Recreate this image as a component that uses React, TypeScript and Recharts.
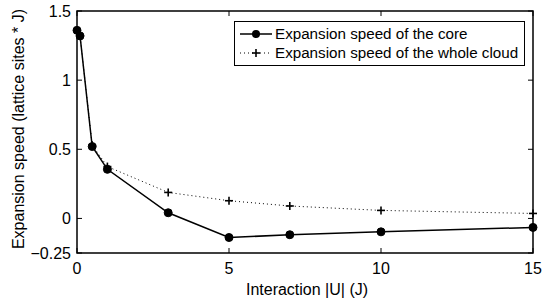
import { LineChart, Line, XAxis, YAxis, ReferenceArea, Legend } from 'recharts';

// interaction strength |U| in units of J
const interaction = [0, 0.1, 0.5, 1, 3, 5, 7, 10, 15];
// expansion speeds (lattice sites * J)
const coreSpeed = [1.36, 1.32, 0.52, 0.355, 0.041, -0.138, -0.118, -0.097, -0.065];
const cloudSpeed = [1.36, 1.32, 0.53, 0.375, 0.188, 0.128, 0.09, 0.058, 0.036];

const xTicks = [0, 5, 10, 15];
const yTicks = [-0.25, 0, 0.5, 1, 1.5];
const yTickLabels = ['\u22120.25', '0', '0.5', '1', '1.5'];

const seriesNames = ['Expansion speed of the core', 'Expansion speed of the whole cloud'];

const data = interaction.map((u, i) => ({
  u,
  core: coreSpeed[i],
  cloud: cloudSpeed[i],
}));

const W = 546;
const H = 302;
const PLOT = { left: 77, top: 11, right: 533, bottom: 253 };
const FONT = 'Liberation Sans, Arial, Helvetica, sans-serif';
const TICK_LEN = 5;

function XTick(props: any) {
  const { x, payload } = props;
  return (
    <g>
      <line x1={x} x2={x} y1={PLOT.bottom} y2={PLOT.bottom - TICK_LEN} stroke="#000" />
      <line x1={x} x2={x} y1={PLOT.top} y2={PLOT.top + TICK_LEN} stroke="#000" />
      <text x={x} y={274} textAnchor="middle" fontSize={16} fontFamily={FONT} fill="#000">
        {payload.value}
      </text>
    </g>
  );
}

function YTick(props: any) {
  const { y, payload } = props;
  const label = yTickLabels[yTicks.indexOf(payload.value)] ?? String(payload.value);
  return (
    <g>
      <line x1={PLOT.left} x2={PLOT.left + TICK_LEN} y1={y} y2={y} stroke="#000" />
      <line x1={PLOT.right} x2={PLOT.right - TICK_LEN} y1={y} y2={y} stroke="#000" />
      <text x={71} y={y} dy={5.5} textAnchor="end" fontSize={16} fontFamily={FONT} fill="#000">
        {label}
      </text>
    </g>
  );
}

function PlusDot(props: any) {
  const { cx, cy } = props;
  if (cx == null || cy == null) return null;
  return (
    <g>
      <line x1={cx - 4} x2={cx + 4} y1={cy} y2={cy} stroke="#000" strokeWidth={1.6} />
      <line x1={cx} x2={cx} y1={cy - 4} y2={cy + 4} stroke="#000" strokeWidth={1.6} />
    </g>
  );
}

function LegendBox() {
  return (
    <div
      style={{
        border: '1.5px solid #000',
        background: '#fff',
        width: 291,
        height: 45,
        boxSizing: 'border-box',
        fontFamily: FONT,
        fontSize: 15.2,
        padding: '2px 0 0 4px',
        color: '#000',
      }}
    >
      {seriesNames.map((name, i) => (
        <div key={name} style={{ display: 'flex', alignItems: 'center', height: 19, whiteSpace: 'nowrap' }}>
          <svg width={34} height={12} style={{ marginRight: 2 }}>
            {i === 0 ? (
              <>
                <line x1={1} x2={33} y1={6} y2={6} stroke="#000" strokeWidth={1.5} />
                <circle cx={17} cy={6} r={4} fill="#000" />
              </>
            ) : (
              <>
                <line x1={1} x2={33} y1={6} y2={6} stroke="#000" strokeDasharray="1 3" />
                <line x1={13} x2={21} y1={6} y2={6} stroke="#000" strokeWidth={1.6} />
                <line x1={17} x2={17} y1={2} y2={10} stroke="#000" strokeWidth={1.6} />
              </>
            )}
          </svg>
          <span>{name}</span>
        </div>
      ))}
    </div>
  );
}

export default function App() {
  return (
    <div style={{ position: 'absolute', left: 0, top: 0, width: W, height: H, background: '#fff' }}>
      <LineChart
        width={W}
        height={H}
        data={data}
        margin={{ top: PLOT.top, right: W - PLOT.right, bottom: 0, left: 0 }}
      >
        <XAxis
          dataKey="u"
          type="number"
          domain={[0, 15]}
          ticks={xTicks}
          height={H - PLOT.bottom}
          axisLine={false}
          tickLine={false}
          tick={<XTick />}
          interval={0}
        />
        <YAxis
          type="number"
          domain={[-0.25, 1.5]}
          ticks={yTicks}
          width={PLOT.left}
          axisLine={false}
          tickLine={false}
          tick={<YTick />}
          interval={0}
        />
        <ReferenceArea
          x1={0}
          x2={15}
          y1={-0.25}
          y2={1.5}
          fill="none"
          stroke="#000"
          strokeWidth={1.5}
          fillOpacity={0}
        />
        <Legend
          layout="vertical"
          align="center"
          verticalAlign="middle"
          wrapperStyle={{ left: 234, top: 21, width: 291, height: 45 }}
          content={() => <LegendBox />}
        />
        <Line
          dataKey="cloud"
          stroke="#000"
          strokeWidth={1}
          strokeDasharray="1 3"
          dot={<PlusDot />}
          activeDot={false}
          isAnimationActive={false}
        />
        <Line
          dataKey="core"
          stroke="#000"
          strokeWidth={1.5}
          dot={{ r: 4, fill: '#000', stroke: '#000', strokeWidth: 1 }}
          activeDot={false}
          isAnimationActive={false}
        />
        <text
          x={307}
          y={295}
          textAnchor="middle"
          fontSize={16}
          fontFamily={FONT}
          fill="#000"
        >
          Interaction |U| (J)
        </text>
        <text
          x={18.5}
          y={129}
          transform="rotate(-90 18.5 129)"
          textAnchor="middle"
          dominantBaseline="central"
          fontSize={16}
          fontFamily={FONT}
          fill="#000"
          style={{ fill: '#000' }}
        >
          Expansion speed (lattice sites * J)
        </text>
      </LineChart>
    </div>
  );
}
